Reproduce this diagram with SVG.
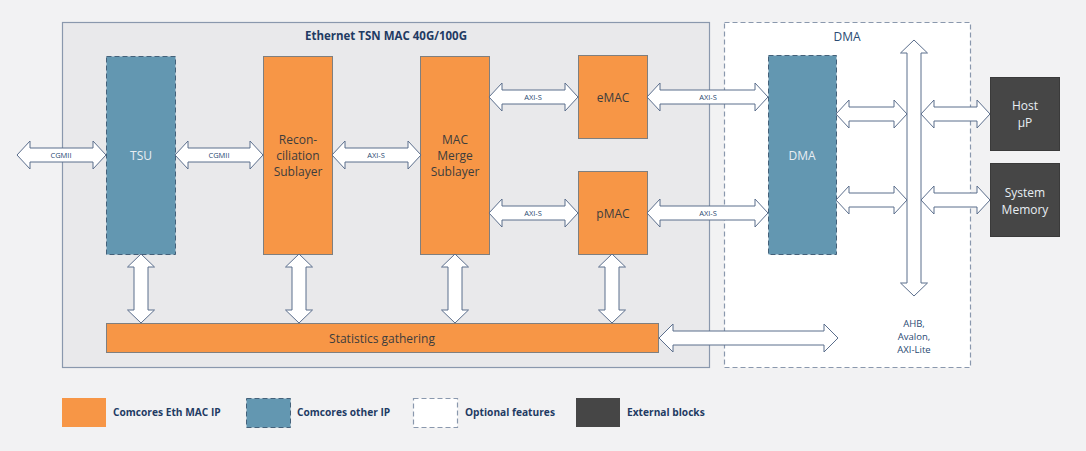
<svg xmlns="http://www.w3.org/2000/svg" width="1086" height="451" viewBox="0 0 1086 451">
<defs>
<style>
.bg{fill:#f2f2f3}
.cont{fill:#e9e9eb;stroke:#8a98ad;stroke-width:1.2}
.opt{fill:#ffffff;stroke:#8a98ad;stroke-width:1.2;stroke-dasharray:5 3}
.org{fill:#f79646;stroke:#7f7f7f;stroke-width:1}
.blu{fill:#6397b1;stroke:#44617a;stroke-width:1;stroke-dasharray:5 3}
.ext{fill:#464646;stroke:#3a3a3a;stroke-width:1}
.arr{fill:#ffffff;stroke:#5b6e8c;stroke-width:1;stroke-linejoin:miter}
.t{font-family:"Open Sans","Noto Sans","Liberation Sans",sans-serif;text-anchor:middle;dominant-baseline:central}
.title{font-size:11.5px;font-weight:bold;fill:#1f3b63}
.dtitle{font-size:12px;fill:#2a4a73}
.blk{font-size:12px;fill:#3d3d3d}
.wblk{font-size:12px;fill:#e8eef3}
.lbl{font-size:7.5px;fill:#2a4a73}
.bus{font-size:9.5px;fill:#2a4a73}
.leg{font-family:"Open Sans","Noto Sans","Liberation Sans",sans-serif;font-size:10.2px;font-weight:bold;fill:#1f3b63;dominant-baseline:central}
</style>
</defs>
<rect class="bg" x="0" y="0" width="1086" height="451"/>

<g id="mac-container">
<rect class="cont" x="62.5" y="22.5" width="647" height="345"/>
<text class="t title" x="386" y="35">Ethernet TSN MAC 40G/100G</text>
</g>
<g id="dma-container">
<rect class="opt" x="724.5" y="22.5" width="246" height="345"/>
<text class="t dtitle" x="847" y="36">DMA</text>
</g>

<g id="tsu">
<rect class="blu" x="106.5" y="56.5" width="69" height="198"/>
<text class="t wblk" x="141" y="155">TSU</text>
</g>
<g id="reconciliation">
<rect class="org" x="263.5" y="56.5" width="69" height="198"/>
<text class="t blk" x="298" y="139">Recon-</text>
<text class="t blk" x="298" y="155">ciliation</text>
<text class="t blk" x="298" y="171">Sublayer</text>
</g>
<g id="mac-merge">
<rect class="org" x="420.5" y="56.5" width="69" height="198"/>
<text class="t blk" x="455" y="139">MAC</text>
<text class="t blk" x="455" y="155">Merge</text>
<text class="t blk" x="455" y="171">Sublayer</text>
</g>
<g id="emac">
<rect class="org" x="578.5" y="55.5" width="69" height="83"/>
<text class="t blk" x="613" y="97">eMAC</text>
</g>
<g id="pmac">
<rect class="org" x="578.5" y="171.5" width="69" height="83"/>
<text class="t blk" x="613" y="213">pMAC</text>
</g>
<g id="dma">
<rect class="blu" x="768.5" y="55.5" width="68" height="199"/>
<text class="t wblk" x="802" y="155">DMA</text>
</g>
<g id="host">
<rect class="ext" x="990.5" y="77.5" width="69" height="73"/>
<text class="t wblk" x="1025" y="105">Host</text>
<text class="t wblk" x="1025" y="122">µP</text>
</g>
<g id="system-memory">
<rect class="ext" x="990.5" y="163.5" width="69" height="73"/>
<text class="t wblk" x="1025" y="192">System</text>
<text class="t wblk" x="1025" y="209">Memory</text>
</g>
<g id="statistics">
<rect class="org" x="106.5" y="323.5" width="552" height="29"/>
<text class="t blk" x="382" y="338">Statistics gathering</text>
</g>

<g id="connectors">
<polygon class="arr" points="17,155 30,141 30,148 93,148 93,141 106,155 93,169 93,162 30,162 30,169"/>
<polygon class="arr" points="175,155 188,141 188,148 250,148 250,141 263,155 250,169 250,162 188,162 188,169"/>
<polygon class="arr" points="332,155 345,141 345,148 408,148 408,141 421,155 408,169 408,162 345,162 345,169"/>
<polygon class="arr" points="489,97 502,83 502,90 565,90 565,83 578,97 565,111 565,104 502,104 502,111"/>
<polygon class="arr" points="489,213 502,199 502,206 565,206 565,199 578,213 565,227 565,220 502,220 502,227"/>
<polygon class="arr" points="647,97 660,83 660,90 755,90 755,83 768,97 755,111 755,104 660,104 660,111"/>
<polygon class="arr" points="647,213 660,199 660,206 755,206 755,199 768,213 755,227 755,220 660,220 660,227"/>
<polygon class="arr" points="836,114 849,100 849,107 894,107 894,100 907,114 894,128 894,121 849,121 849,128"/>
<polygon class="arr" points="836,200 849,186 849,193 894,193 894,186 907,200 894,214 894,207 849,207 849,214"/>
<polygon class="arr" points="921,114 934,100 934,107 977,107 977,100 990,114 977,128 977,121 934,121 934,128"/>
<polygon class="arr" points="921,200 934,186 934,193 977,193 977,186 990,200 977,214 977,207 934,207 934,214"/>
<polygon class="arr" points="914,40 927.5,53 921,53 921,283 927.5,283 914,296 900.5,283 907,283 907,53 900.5,53"/>
<polygon class="arr" points="659,338 673,324 673,331 824,331 824,324 838,338 824,352 824,345 673,345 673,352"/>
<polygon class="arr" points="141,254 154.5,267 148,267 148,310 154.5,310 141,323 127.5,310 134,310 134,267 127.5,267"/>
<polygon class="arr" points="299,254 312.5,267 306,267 306,310 312.5,310 299,323 285.5,310 292,310 292,267 285.5,267"/>
<polygon class="arr" points="455,254 468.5,267 462,267 462,310 468.5,310 455,323 441.5,310 448,310 448,267 441.5,267"/>
<polygon class="arr" points="612,254 625.5,267 619,267 619,310 625.5,310 612,323 598.5,310 605,310 605,267 598.5,267"/>
<text class="t lbl" x="61" y="155">CGMII</text>
<text class="t lbl" x="219" y="155">CGMII</text>
<text class="t lbl" x="376" y="155">AXI-S</text>
<text class="t lbl" x="533" y="97">AXI-S</text>
<text class="t lbl" x="533" y="213">AXI-S</text>
<text class="t lbl" x="708" y="97">AXI-S</text>
<text class="t lbl" x="708" y="213">AXI-S</text>
<text class="t bus" x="914" y="323">AHB,</text>
<text class="t bus" x="914" y="336">Avalon,</text>
<text class="t bus" x="914" y="349">AXI-Lite</text>
</g>

<g id="legend">
<rect x="62" y="398" width="44" height="29" fill="#f79646"/>
<text class="leg" x="113" y="412">Comcores Eth MAC IP</text>
<rect class="blu" x="246.5" y="398.5" width="44" height="29"/>
<text class="leg" x="297" y="412">Comcores other IP</text>
<rect class="opt" x="413.5" y="398.5" width="44" height="29"/>
<text class="leg" x="465" y="412">Optional features</text>
<rect x="576" y="398" width="44" height="29" fill="#464646"/>
<text class="leg" x="627" y="412">External blocks</text>
</g>
</svg>
